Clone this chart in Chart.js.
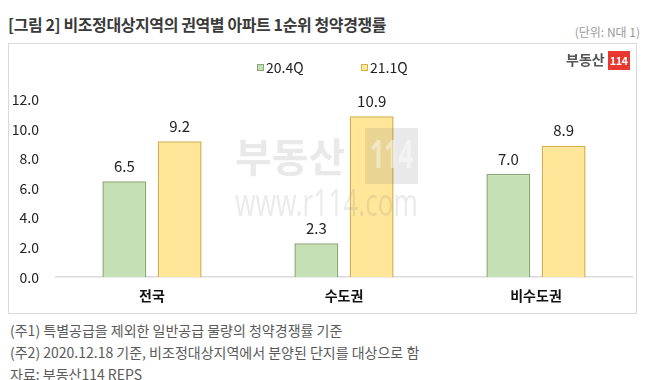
<!DOCTYPE html>
<html>
<head>
<meta charset="utf-8">
<script src="https://cdn.jsdelivr.net/npm/chart.js@4"></script>
<style>
  body { margin: 0; width: 646px; height: 380px; background: #fff; font-family: "Noto Sans CJK KR", "Noto Sans", sans-serif; position: relative; overflow: hidden; }
  .title { position: absolute; left: 8px; top: 12px; font-size: 16px; font-weight: bold; color: #3a3a3a; letter-spacing: -0.4px; line-height: 24px; }
  .unit { position: absolute; right: 6px; top: 23px; font-size: 12px; color: #9a9a9a; }
  .box { position: absolute; left: 8px; top: 43px; width: 627px; height: 269px; border: 1px solid #d9d9d9; }
  .box canvas { position: absolute; left: 0; top: 0; }
  .logo { position: absolute; left: 566px; top: 49px; font-size: 14px; font-weight: bold; color: #555; line-height: 20px; }
  .logo span { display: inline-block; background: #e8382f; color: #fff; font-size: 11px; padding: 0 2px; line-height: 19px; margin-left: 3px; letter-spacing: -0.5px; }
  .note { position: absolute; left: 10px; font-size: 14px; color: #5a5a5a; line-height: 20px; }
</style>
</head>
<body>
<div class="title">[그림 2] 비조정대상지역의 권역별 아파트 1순위 청약경쟁률</div>
<div class="unit">(단위: N대 1)</div>
<div class="box"><canvas id="chart" width="627" height="269"></canvas></div>
<div class="logo">부동산<span>114</span></div>
<div class="note" style="top:320px">(주1) 특별공급을 제외한 일반공급 물량의 청약경쟁률 기준</div>
<div class="note" style="top:342px">(주2) 2020.12.18 기준, 비조정대상지역에서 분양된 단지를 대상으로 함</div>
<div class="note" style="top:364px">자료: 부동산114 REPS</div>
<script>
const categories = ['전국', '수도권', '비수도권'];
const seriesNames = ['20.4Q', '21.1Q'];
const q204 = [6.5, 2.3, 7.0];
const q211 = [9.2, 10.9, 8.9];

// faint site watermark over the plot
const watermark = {
    id: 'watermark',
    afterDatasetsDraw(chart) {
        const ctx = chart.ctx;
        ctx.save();
        ctx.fillStyle = 'rgba(120,120,120,0.16)';
        ctx.font = 'bold 40px "Noto Sans CJK KR"';
        ctx.textBaseline = 'middle';
        ctx.fillText('부동산', 226, 113, 124);
        ctx.fillRect(356, 84, 53, 56);
        ctx.fillStyle = 'rgba(255,255,255,0.45)';
        ctx.font = 'bold 40px "Noto Sans"';
        ctx.fillText('114', 361, 113, 43);
        ctx.fillStyle = 'rgba(120,120,120,0.15)';
        ctx.font = '38px "Noto Sans"';
        ctx.textBaseline = 'alphabetic';
        ctx.fillText('www.r114.com', 226, 172, 183);
        ctx.restore();
    }
};

const valueLabels = {
    id: 'valueLabels',
    afterDatasetsDraw(chart) {
        const ctx = chart.ctx;
        ctx.save();
        ctx.font = '15px "Noto Sans CJK KR"';
        ctx.fillStyle = '#222';
        ctx.textAlign = 'center';
        ctx.textBaseline = 'middle';
        chart.data.datasets.forEach((ds, i) => {
            chart.getDatasetMeta(i).data.forEach((bar, j) => {
                ctx.fillText(ds.data[j].toFixed(1), bar.x, bar.y - 15);
            });
        });
        ctx.restore();
    }
};

// legend drawn by hand so it can sit above the plot like the original
const topLegend = {
    id: 'topLegend',
    afterDraw(chart) {
        const ctx = chart.ctx;
        ctx.save();
        ctx.font = '14px "Noto Sans CJK KR"';
        ctx.textBaseline = 'middle';
        let x = 248;
        chart.data.datasets.forEach(ds => {
            ctx.fillStyle = ds.backgroundColor;
            ctx.fillRect(x, 20, 7, 7);
            ctx.strokeStyle = ds.borderColor;
            ctx.lineWidth = 1;
            ctx.strokeRect(x + 0.5, 20.5, 6, 6);
            ctx.fillStyle = '#222';
            ctx.fillText(ds.label, x + 9, 24);
            x += 104;
        });
        ctx.restore();
    }
};

new Chart(document.getElementById('chart'), {
    type: 'bar',
    data: {
        labels: categories,
        datasets: [{
            label: seriesNames[0],
            data: q204,
            backgroundColor: '#c5e0b4',
            borderColor: '#8aa876',
            borderWidth: 1.5,
            categoryPercentage: 0.576,
            barPercentage: 0.795
        }, {
            label: seriesNames[1],
            data: q211,
            backgroundColor: '#ffe699',
            borderColor: '#d4b14a',
            borderWidth: 1.5,
            categoryPercentage: 0.576,
            barPercentage: 0.795
        }]
    },
    options: {
        responsive: false,
        animation: false,
        layout: {
            padding: {top: 56, right: 4, bottom: 7, left: 0}
        },
        scales: {
            x: {
                grid: {display: false},
                border: {display: true, color: '#d9d9d9', width: 1.5},
                ticks: {
                    color: '#111',
                    font: {size: 14, family: '"Noto Sans CJK KR"', weight: 'bold'},
                    padding: 2
                }
            },
            y: {
                min: 0,
                max: 12,
                afterFit(scale) {
                    scale.width = 47;
                },
                grid: {display: false},
                border: {display: false},
                ticks: {
                    stepSize: 2,
                    color: '#222',
                    font: {size: 14, family: '"Noto Sans CJK KR"'},
                    padding: 9,
                    callback: v => v.toFixed(1)
                }
            }
        },
        plugins: {
            legend: {display: false},
            tooltip: {enabled: false}
        }
    },
    plugins: [watermark, valueLabels, topLegend]
});
</script>
</body>
</html>
